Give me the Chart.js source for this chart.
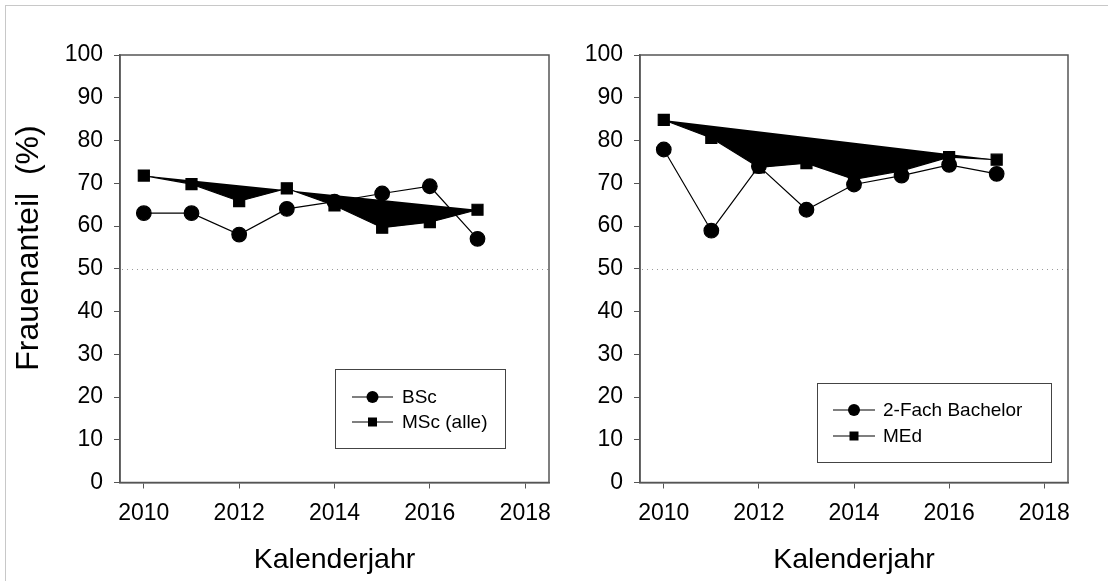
<!DOCTYPE html>
<html>
<head>
<meta charset="utf-8">
<script src="https://cdn.jsdelivr.net/npm/chart.js@4.4.1/dist/chart.umd.min.js"></script>
<style>
  html, body { margin: 0; padding: 0; background: #fff; overflow: hidden; }
  #wrap { position: relative; width: 1108px; height: 581px; overflow: hidden; }
  #frame { position: absolute; left: 5px; top: 5px; width: 1300px; height: 800px;
           border: 1px solid #c8c8c8; box-sizing: border-box; }
  canvas { position: absolute; top: 0; }
  #left { left: 0; }
  #right { left: 554px; }
</style>
</head>
<body>
<div id="wrap">
  <div id="frame"></div>
  <canvas id="left" width="600" height="581"></canvas>
  <canvas id="right" width="554" height="581"></canvas>
</div>
<script>
// Calendar years and women's share (%) per programme
const years = [2010, 2011, 2012, 2013, 2014, 2015, 2016, 2017];
const bscShare = [63, 63, 58, 64, 65.7, 67.6, 69.3, 57];
const mscShare = [71.8, 69.8, 65.8, 68.8, 64.8, 59.6, 60.9, 63.8];
const zweiFachShare = [77.9, 58.9, 74, 63.8, 69.7, 71.8, 74.3, 72.2];
const medShare = [84.8, 80.6, 73.7, 74.7, 70.9, 72.9, 76.1, 75.5];

const xTicks = [2010, 2012, 2014, 2016, 2018];
const yTicks = [0, 10, 20, 30, 40, 50, 60, 70, 80, 90, 100];
const parityLine = 50;

const leftLegend = ['BSc', 'MSc (alle)'];
const rightLegend = ['2-Fach Bachelor', 'MEd'];

const FONT = "Liberation Sans, Arial, Helvetica, sans-serif";
const AXIS = '#555';

function pts(vals) { return years.map((y, i) => ({ x: y, y: vals[i] })); }

// Box around the plot area plus the dotted 50 % reference line
const frameAndRef = {
  id: 'frameAndRef',
  beforeDatasetsDraw(chart) {
    const { ctx, chartArea: a, scales } = chart;
    const y = Math.round(scales.y.getPixelForValue(parityLine)) + 0.5;
    ctx.save();
    ctx.strokeStyle = '#9a9a9a';
    ctx.lineWidth = 1;
    ctx.setLineDash([1, 4]);
    ctx.beginPath();
    ctx.moveTo(a.left + 2, y);
    ctx.lineTo(a.right, y);
    ctx.stroke();
    ctx.restore();
  },
  afterDraw(chart) {
    const { ctx, chartArea: a } = chart;
    ctx.save();
    ctx.strokeStyle = AXIS;
    ctx.lineWidth = 1.5;
    ctx.strokeRect(a.left, a.top, a.right - a.left, a.bottom - a.top);
    ctx.restore();
  }
};

// Boxed legend with line-and-marker samples
const boxLegend = {
  id: 'boxLegend',
  afterDraw(chart, args, opts) {
    const { ctx } = chart;
    const b = opts.box;
    ctx.save();
    ctx.strokeStyle = '#444';
    ctx.lineWidth = 1;
    ctx.strokeRect(b.x + 0.5, b.y + 0.5, b.w, b.h);
    ctx.font = '19px ' + FONT;
    ctx.textBaseline = 'middle';
    ctx.fillStyle = '#000';
    opts.labels.forEach((lab, i) => {
      const cy = b.y + opts.rowY[i];
      const x0 = b.x + opts.lineX0, x1 = b.x + opts.lineX1, cx = (x0 + x1) / 2;
      ctx.strokeStyle = '#000';
      ctx.lineWidth = 1.2;
      ctx.beginPath(); ctx.moveTo(x0, cy); ctx.lineTo(x1, cy); ctx.stroke();
      ctx.beginPath();
      if (i === 0) { ctx.arc(cx, cy, 6, 0, Math.PI * 2); }
      else { ctx.rect(cx - 4.5, cy - 4.5, 9, 9); }
      ctx.fill();
      ctx.fillText(lab, b.x + opts.textX, cy + 1);
    });
    ctx.restore();
  }
};

// Rotated y-axis caption
const sideTitle = {
  id: 'sideTitle',
  afterDraw(chart, args, opts) {
    if (!opts.text) return;
    const { ctx } = chart;
    ctx.save();
    ctx.translate(opts.x, opts.y);
    ctx.rotate(-Math.PI / 2);
    ctx.font = opts.font;
    ctx.fillStyle = '#000';
    ctx.textAlign = 'center';
    ctx.textBaseline = 'middle';
    ctx.fillText(opts.text, 0, 0);
    ctx.restore();
  }
};

function makePanel(canvasId, circleVals, squareVals, labels, yAxisWidth, rightPad, legendOpts, yTitle) {
  return new Chart(document.getElementById(canvasId), {
    type: 'line',
    data: {
      datasets: [
        {
          label: labels[0],
          data: pts(circleVals),
          borderColor: '#000', borderWidth: 1.2,
          pointStyle: 'circle', pointRadius: 7.3,
          pointBackgroundColor: '#000', pointBorderColor: '#000',
          fill: false, tension: 0
        },
        {
          label: labels[1],
          data: pts(squareVals),
          borderColor: '#000', borderWidth: 1.2,
          pointStyle: 'rect', pointRadius: 7.8,
          pointBackgroundColor: '#000', pointBorderColor: '#000',
          backgroundColor: '#000',
          fill: 'shape', tension: 0
        }
      ]
    },
    options: {
      responsive: false,
      animation: false,
      layout: { padding: { left: 0, right: rightPad, top: 55, bottom: 0 } },
      plugins: {
        legend: { display: false },
        tooltip: { enabled: false },
        boxLegend: legendOpts,
        sideTitle: yTitle || {}
      },
      scales: {
        x: {
          type: 'linear', min: 2009.5, max: 2018.5,
          afterBuildTicks(s) { s.ticks = xTicks.map(v => ({ value: v })); },
          afterFit(s) { s.height = 98.5; s.paddingLeft = 0; s.paddingRight = 0; },
          border: { display: true, color: AXIS, width: 1.5 },
          grid: { drawOnChartArea: false, drawTicks: true, tickLength: 6, color: AXIS, lineWidth: 1 },
          ticks: { color: '#000', font: { family: FONT, size: 23 }, padding: 11, maxRotation: 0,
                   callback: v => String(v) },
          title: { display: true, text: 'Kalenderjahr', color: '#000',
                   font: { family: FONT, size: 28.5 }, padding: { top: 0, bottom: 4 } }
        },
        y: {
          min: 0, max: 100,
          afterBuildTicks(s) { s.ticks = yTicks.map(v => ({ value: v })); },
          afterFit(s) { s.width = yAxisWidth; s.paddingTop = 0; s.paddingBottom = 0; },
          border: { display: true, color: AXIS, width: 1.5 },
          grid: { drawOnChartArea: false, drawTicks: true, tickLength: 6, color: AXIS, lineWidth: 1 },
          ticks: { color: '#000', font: { family: FONT, size: 23 }, padding: 11 }
        }
      }
    },
    plugins: [frameAndRef, boxLegend, sideTitle]
  });
}

// Left panel: plot area spans x 120..549 of a 600 px wide canvas
makePanel('left', bscShare, mscShare, leftLegend, 120, 51,
  { labels: leftLegend, box: { x: 335, y: 369, w: 170, h: 79 },
    rowY: [28, 53], lineX0: 17, lineX1: 58, textX: 67 },
  { text: 'Frauenanteil  (%)', x: 29, y: 248, font: '32px ' + FONT });

// Right panel: plot area spans x 640..1068 of the page
makePanel('right', zweiFachShare, medShare, rightLegend, 86, 40,
  { labels: rightLegend, box: { x: 817 - 554, y: 383, w: 234, h: 79 },
    rowY: [27, 53], lineX0: 16, lineX1: 58, textX: 66 },
  null);
</script>
</body>
</html>
